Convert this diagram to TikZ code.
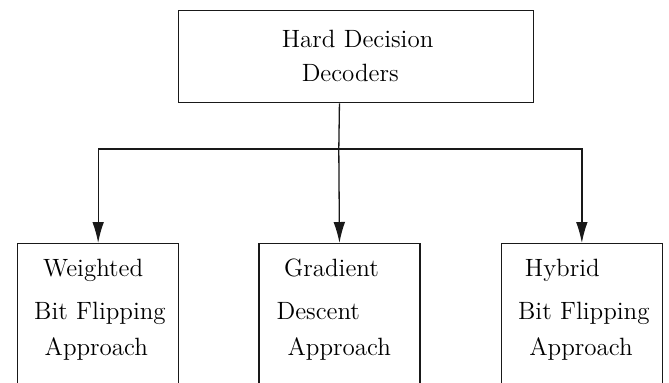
\documentclass[tikz,border=0pt]{standalone}
\usetikzlibrary{arrows.meta}

\tikzset{
  box/.style={draw, anchor=north west, inner sep=0pt, align=left,
    font=\fontsize{12.5}{18}\selectfont},
  topbox/.style={box, text width=177.5pt, text height=18.5pt, text depth=27.5pt,
    font=\fontsize{12.5}{17}\selectfont},
  leafbox/.style={box, text width=80.5pt, text height=16.5pt, text depth=70pt},
  link/.style={-{Latex[length=10.5pt,width=5.8pt]}}
}

\begin{document}
\begin{tikzpicture}[x=0.5pt, y=-0.5pt, line width=0.65pt, draw=black!90]
  \useasboundingbox (0,0) rectangle (669,382);
  \clip (0,0) rectangle (669,382);

  \node[topbox] (hdd) at (177.5,10) {\hspace*{51.8pt}Hard Decision\\\hspace*{61.8pt}Decoders};

  \node[leafbox] (wbf) at (17,243)
    {\hspace*{12.8pt}Weighted\\[3.5pt]\hspace*{8.3pt}Bit Flipping\\\hspace*{13.5pt}Approach};
  \node[leafbox] (gd) at (258.3,243)
    {\hspace*{12.6pt}Gradient\\[3.5pt]\hspace*{8.8pt}Descent\\\hspace*{14.3pt}Approach};
  \node[leafbox] (hbf) at (500.7,243)
    {\hspace*{11.8pt}Hybrid\\[3.5pt]\hspace*{8.4pt}Bit Flipping\\\hspace*{14pt}Approach};

  \coordinate (split) at (338.8,149);
  \draw (hdd.south -| gd.north) -- (split);
  \draw[link] (split) -- (gd.north);
  \draw[link] (split) -| (wbf.north);
  \draw[link] (split) -| (hbf.north);
\end{tikzpicture}
\end{document}
